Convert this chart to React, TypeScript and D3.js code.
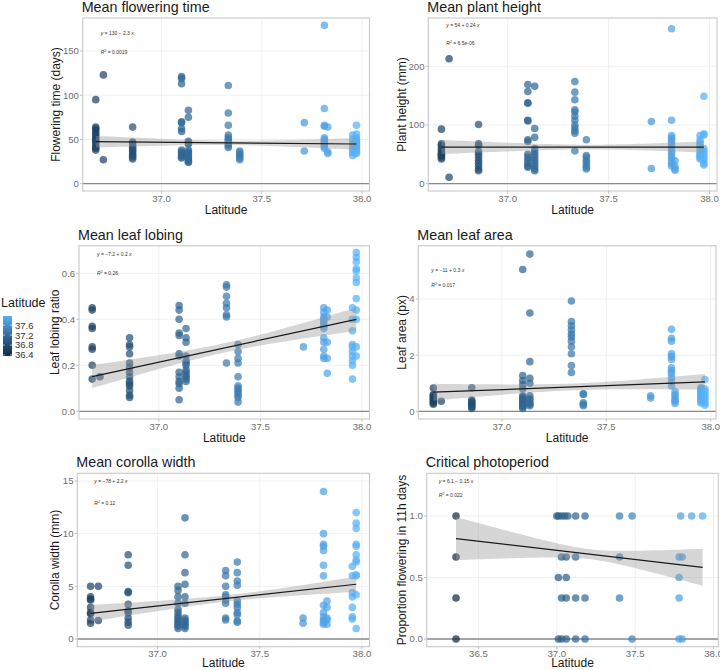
import React from "react";
import * as d3 from "d3";

// ---------- data ----------
const siteLatitude = [36.672, 36.71, 36.856, 37.1, 37.134, 37.333, 37.39, 37.712, 37.812, 37.829, 37.953, 37.972];

const floweringTime = [
  [95, 64, 62, 60, 57, 55, 52, 50, 48, 45, 42, 40, 38],
  [123, 27],
  [64, 47, 45, 42, 40, 38, 36, 34, 32, 30, 28],
  [121, 119, 113, 70, 69, 62, 59, 38, 36, 34, 32, 30, 29],
  [83, 75, 48, 46, 45, 38, 36, 34, 32, 30, 28, 26, 25, 24],
  [111, 80, 66, 55, 52, 50, 48, 45, 43, 41],
  [37, 35, 33, 31, 29, 27],
  [69, 37],
  [179, 85, 66, 65, 52, 50, 48, 46, 44, 42, 40],
  [64, 36, 34],
  [55, 50, 46, 42, 38, 35, 32],
  [66, 56, 52, 50, 48, 46, 44, 42, 40, 38, 36, 34],
];

const plantHeight = [
  [93, 68, 65, 60, 56, 52, 50, 48, 45, 42],
  [213, 11],
  [101, 68, 65, 55, 50, 45, 40, 35, 30, 25, 22],
  [169, 157, 138, 137, 108, 107, 75, 72, 50, 45, 40, 35, 30, 28],
  [166, 94, 79, 60, 55, 50, 45, 40, 35, 30, 25, 22],
  [174, 156, 143, 126, 122, 115, 108, 100, 95, 90, 86, 56],
  [75, 48, 45, 40, 36, 32, 28, 25],
  [106, 26],
  [264, 108, 82, 78, 75, 70, 65, 60, 55, 50, 45, 40, 35, 30],
  [39, 30, 25, 23],
  [82, 75, 70, 65, 60, 55, 50, 48, 45, 42],
  [149, 85, 83, 60, 55, 50, 45, 40, 35, 32],
];

const leafLobing = [
  [0.45, 0.44, 0.37, 0.36, 0.28, 0.27, 0.2, 0.14],
  [0.15],
  [0.32, 0.29, 0.28, 0.25, 0.21, 0.19, 0.17, 0.15, 0.13, 0.12, 0.11, 0.09, 0.07, 0.06],
  [0.46, 0.44, 0.4, 0.34, 0.33, 0.25, 0.24, 0.17, 0.15, 0.13, 0.12, 0.1, 0.05],
  [0.36, 0.32, 0.3, 0.24, 0.22, 0.21, 0.2, 0.18, 0.17, 0.16, 0.15, 0.14, 0.13],
  [0.55, 0.54, 0.5, 0.47, 0.45, 0.42, 0.41, 0.21],
  [0.29, 0.26, 0.23, 0.21, 0.15, 0.11, 0.1, 0.09, 0.08, 0.07, 0.06, 0.04],
  [0.28],
  [0.45, 0.43, 0.41, 0.4, 0.39, 0.38, 0.37, 0.36, 0.32, 0.3, 0.27, 0.24, 0.23],
  [0.44, 0.41, 0.3, 0.23, 0.165],
  [0.45, 0.4, 0.35, 0.29, 0.28, 0.26, 0.24, 0.22, 0.2, 0.14],
  [0.69, 0.67, 0.65, 0.62, 0.61, 0.58, 0.56, 0.49, 0.44, 0.4, 0.28, 0.24],
];

const leafArea = [
  [0.83, 0.6, 0.55, 0.5, 0.45, 0.4, 0.35, 0.3, 0.25],
  [0.36],
  [0.84, 0.4, 0.35, 0.3, 0.25, 0.2, 0.15, 0.1],
  [5.05, 1.27, 1.1, 0.95, 0.8, 0.55, 0.5, 0.45, 0.4, 0.35, 0.3, 0.25, 0.2, 0.15, 0.1],
  [5.6, 3.5, 1.77, 1.18, 1.0, 0.55, 0.45, 0.38, 0.3, 0.25, 0.2],
  [3.93, 3.2, 3.05, 2.9, 2.75, 2.65, 2.5, 2.3, 2.05, 1.63, 1.38],
  [0.63, 0.6, 0.3, 0.25, 0.2],
  [0.55, 0.47],
  [2.92, 2.6, 2.5, 2.05, 1.95, 1.85, 1.55, 1.45, 1.35, 1.2, 1.05, 0.9],
  [0.7, 0.6, 0.55, 0.45, 0.4, 0.35, 0.28],
  [0.85, 0.8, 0.75, 0.7, 0.65, 0.6, 0.55, 0.5, 0.45, 0.4, 0.35, 0.3],
  [1.13, 0.8, 0.7, 0.6, 0.5, 0.4, 0.3, 0.22],
];

const corollaWidth = [
  [5.0, 4.0, 3.8, 3.7, 3.0, 2.5, 2.4, 1.8, 1.5],
  [5.0, 1.75],
  [8.0, 7.0, 4.5, 4.4, 3.3, 2.7, 2.5, 2.0, 1.6, 1.3],
  [5.0, 4.6, 4.0, 3.4, 2.8, 2.5, 2.2, 2.0, 1.8, 1.6, 1.4, 1.2, 1.0],
  [11.5, 8.0, 6.3, 5.2, 4.0, 3.4, 2.0, 1.8, 1.6, 1.4, 1.2, 1.0],
  [6.5, 6.0, 5.0, 4.2, 4.0, 3.7, 3.4, 2.0, 1.8],
  [7.3, 6.3, 5.5, 5.1, 3.6, 3.3, 3.0, 2.5, 2.3, 1.7, 1.6],
  [2.0, 1.5],
  [14.0, 10.0, 9.0, 8.8, 8.4, 7.0, 6.0, 3.2, 2.5, 2.1, 1.8, 1.6, 1.4],
  [3.6, 3.0, 2.0, 1.8, 1.4],
  [6.9, 6.0, 4.4, 4.0, 3.0, 2.1, 1.9],
  [12.0, 11.0, 10.5, 9.0, 8.8, 8.0, 7.5, 7.3, 6.1, 6.0, 4.2, 1.0],
];

const photoLatitude = [
  36.357, 36.357, 36.357, 36.357,
  37.0, 37.01, 37.03, 37.05, 37.07, 37.12, 37.18, 37.4, 37.48, 37.79, 37.86, 37.93,
  37.03, 37.06, 37.12, 37.4, 37.78, 37.8,
  37.01, 37.06, 37.78,
  37.03, 37.06, 37.12, 37.18, 37.4, 37.78,
  37.01, 37.03, 37.06, 37.12, 37.18, 37.48, 37.78, 37.8,
];
const photoProportion = [
  1, 0.667, 0.333, 0,
  1, 1, 1, 1, 1, 1, 1, 1, 1, 1, 1, 1,
  0.667, 0.667, 0.667, 0.667, 0.667, 0.667,
  0.5, 0.5, 0.5,
  0.333, 0.333, 0.333, 0.333, 0.333, 0.333,
  0, 0, 0, 0, 0, 0, 0, 0,
];

// fitted lines (y at min / max latitude) and CI half-widths [left, narrowest, right]
const floweringFit = [47.5, 44.9];
const floweringBand = [6.6, 2.4, 6.5];
const heightFit = [62.5, 62.5];
const heightBand = [12, 4, 9.5];
const lobingFit = [0.151, 0.4];
const lobingBand = [0.05, 0.02, 0.05];
const areaFit = [0.68, 1.05];
const areaBand = [0.3, 0.12, 0.28];
const corollaFit = [2.44, 5.2];
const corollaBand = [0.79, 0.3, 0.72];
const photoFit = [0.816, 0.583];
const photoBand = [0.175, 0.04, 0.15];

const latTicks = [37.0, 37.5, 38.0];
const photoLatTicks = [36.5, 37.0, 37.5, 38.0];
const legendTicks = [36.4, 36.8, 37.2, 37.6];
const colourDomain = [36.357, 37.972];

// ---------- styling ----------
const FONT = "'Liberation Sans', Arial, Helvetica, sans-serif";
const colour = d3
  .scaleLinear<string>()
  .domain(colourDomain)
  .range(["#132B43", "#56B1F7"])
  .interpolate(d3.interpolateLab);

type Pt = { lat: number; v: number };
const fromSites = (vals: number[][]): Pt[] =>
  vals.flatMap((arr, i) => arr.map((v) => ({ lat: siteLatitude[i], v })));

const panels = [
  {
    title: "Mean flowering time", ylab: "Flowering time (days)",
    box: [82.7, 18, 369.5, 191], xdom: [36.607, 38.037], ydom: [-8.25, 187.3],
    xticks: latTicks, yticks: [0, 50, 100, 150], fmt: (d: number) => String(d),
    pts: fromSites(floweringTime), fit: floweringFit, band: floweringBand,
    eq: ["y", " = 130 − 2.3 ", "x"], r2: "0.0019", eqOff: [18, 17], r2Off: [18, 36], ylabX: 59.5, xlabOff: 23,
  },
  {
    title: "Mean plant height", ylab: "Plant height (mm)",
    box: [428.3, 18, 717, 191], xdom: [36.607, 38.037], ydom: [-12.4, 282.3],
    xticks: latTicks, yticks: [0, 100, 200], fmt: (d: number) => String(d),
    pts: fromSites(plantHeight), fit: heightFit, band: heightBand,
    eq: ["y", " = 54 + 0.24 ", "x"], r2: "6.5e-06", eqOff: [18, 8.7], r2Off: [18, 27.4], ylabX: 405.5, xlabOff: 23,
  },
  {
    title: "Mean leaf lobing", ylab: "Leaf lobing ratio",
    box: [79, 245.7, 369.5, 419], xdom: [36.607, 38.037], ydom: [-0.0335, 0.72],
    xticks: latTicks, yticks: [0, 0.2, 0.4, 0.6], fmt: (d: number) => d.toFixed(1),
    pts: fromSites(leafLobing), fit: lobingFit, band: lobingBand,
    eq: ["y", " = −7.2 + 0.2 ", "x"], r2: "0.26", eqOff: [18, 10], r2Off: [18, 29.4], ylabX: 58.6, xlabOff: 23,
  },
  {
    title: "Mean leaf area", ylab: "Leaf area (px)",
    box: [418.3, 245.7, 716, 419], xdom: [36.6, 38.025], ydom: [-0.274, 5.9],
    xticks: latTicks, yticks: [0, 2, 4], fmt: (d: number) => String(d),
    pts: fromSites(leafArea), fit: areaFit, band: areaBand,
    eq: ["y", " = −11 + 0.3 ", "x"], r2: "0.017", eqOff: [13, 26.4], r2Off: [13, 41.4], ylabX: 405.5, xlabOff: 23,
  },
  {
    title: "Mean corolla width", ylab: "Corolla width (mm)",
    box: [77.3, 473.3, 369.5, 646.7], xdom: [36.607, 38.037], ydom: [-0.73, 15.73],
    xticks: latTicks, yticks: [0, 5, 10, 15], fmt: (d: number) => String(d),
    pts: fromSites(corollaWidth), fit: corollaFit, band: corollaBand,
    eq: ["y", " = −78 + 2.2 ", "x"], r2: "0.12", eqOff: [17, 10], r2Off: [17, 31.4], ylabX: 58.6, xlabOff: 20.3,
  },
  {
    title: "Critical photoperiod", ylab: "Proportion flowering in 11h days",
    box: [426.7, 473.3, 718.3, 646.7], xdom: [36.17, 38.03], ydom: [-0.0626, 1.347],
    xticks: photoLatTicks, yticks: [0, 0.5, 1], fmt: (d: number) => d.toFixed(1),
    pts: photoLatitude.map((lat, i) => ({ lat, v: photoProportion[i] })), fit: photoFit, band: photoBand,
    eq: ["y", " = 6.1 − 0.15 ", "x"], r2: "0.022", eqOff: [12, 10], r2Off: [12, 23.4], ylabX: 405.5, xlabOff: 20.3,
  },
];

function halfWidth(x: number, xL: number, xR: number, b: number[]) {
  const [hL, hm, hR] = b;
  const A = hm * hm;
  const r = Math.sqrt((hL * hL - A) / (hR * hR - A));
  const x0 = (xL + r * xR) / (1 + r);
  const B = (hL * hL - A) / ((x0 - xL) * (x0 - xL));
  return Math.sqrt(A + B * (x - x0) * (x - x0));
}

function Panel({ cfg }: { cfg: (typeof panels)[number] }) {
  const [x0, y0, x1, y1] = cfg.box;
  const xs = d3.scaleLinear().domain(cfg.xdom).range([x0, x1]);
  const ys = d3.scaleLinear().domain(cfg.ydom).range([y1, y0]);
  const lats = cfg.pts.map((p) => p.lat);
  const xL = d3.min(lats) as number;
  const xR = d3.max(lats) as number;
  const fitY = (x: number) => cfg.fit[0] + ((cfg.fit[1] - cfg.fit[0]) * (x - xL)) / (xR - xL);
  const xsamp = d3.range(81).map((i) => xL + ((xR - xL) * i) / 80);
  const area = d3
    .area<number>()
    .x((d) => xs(d))
    .y0((d) => ys(fitY(d) - halfWidth(d, xL, xR, cfg.band)))
    .y1((d) => ys(fitY(d) + halfWidth(d, xL, xR, cfg.band)));
  const line = d3
    .line<number>()
    .x((d) => xs(d))
    .y((d) => ys(fitY(d)));
  const cy = (y0 + y1) / 2;
  return (
    <g fontFamily={FONT}>
      <text x={x0 - 1} y={y0 - 6} fontSize={14.3} fill="#1a1a1a">{cfg.title}</text>
      <rect x={x0} y={y0} width={x1 - x0} height={y1 - y0} fill="white" />
      {cfg.xticks.map((t) => (
        <line key={"gx" + t} x1={xs(t)} x2={xs(t)} y1={y0} y2={y1} stroke="#ececec" strokeWidth={0.8} />
      ))}
      {cfg.yticks.map((t) => (
        <line key={"gy" + t} x1={x0} x2={x1} y1={ys(t)} y2={ys(t)} stroke="#ececec" strokeWidth={0.8} />
      ))}
      <line x1={x0} x2={x1} y1={ys(0)} y2={ys(0)} stroke="#8a8a8a" strokeWidth={1.3} />
      {cfg.pts.map((p, i) => (
        <circle key={i} cx={xs(p.lat)} cy={ys(p.v)} r={3.8} fill={colour(p.lat)} fillOpacity={0.72} />
      ))}
      <path d={area(xsamp) || ""} fill="#999999" fillOpacity={0.4} />
      <path d={line([xL, xR]) || ""} stroke="#1a1a1a" strokeWidth={1.2} fill="none" />
      <rect x={x0} y={y0} width={x1 - x0} height={y1 - y0} fill="none" stroke="#c8c8c8" strokeWidth={1.1} />
      {cfg.xticks.map((t) => (
        <g key={"tx" + t}>
          <line x1={xs(t)} x2={xs(t)} y1={y1} y2={y1 + 2.7} stroke="#b3b3b3" strokeWidth={0.8} />
          <text x={xs(t)} y={y1 + 10.5} fontSize={9.6} fill="#6e6e6e" textAnchor="middle">
            {t.toFixed(1)}
          </text>
        </g>
      ))}
      {cfg.yticks.map((t) => (
        <g key={"ty" + t}>
          <line x1={x0 - 2.7} x2={x0} y1={ys(t)} y2={ys(t)} stroke="#b3b3b3" strokeWidth={0.8} />
          <text x={x0 - 3.8} y={ys(t) + 3.4} fontSize={9.6} fill="#6e6e6e" textAnchor="end">
            {cfg.fmt(t)}
          </text>
        </g>
      ))}
      <text x={(x0 + x1) / 2} y={y1 + cfg.xlabOff} fontSize={12} fill="#1a1a1a" textAnchor="middle">Latitude</text>
      <text
        transform={`translate(${cfg.ylabX},${cy}) rotate(-90)`}
        fontSize={12}
        fill="#1a1a1a"
        textAnchor="middle"
      >
        {cfg.ylab}
      </text>
      <text x={x0 + cfg.eqOff[0]} y={y0 + cfg.eqOff[1]} fontSize={5} fill="#333">
        <tspan fontStyle="italic">{cfg.eq[0]}</tspan>
        <tspan>{cfg.eq[1]}</tspan>
        <tspan fontStyle="italic">{cfg.eq[2]}</tspan>
      </text>
      <text x={x0 + cfg.r2Off[0]} y={y0 + cfg.r2Off[1]} fontSize={5} fill="#333">
        <tspan fontStyle="italic">R</tspan>
        <tspan fontSize={3.5} dy={-2}>2</tspan>
        <tspan dy={2}>{" = " + cfg.r2}</tspan>
      </text>
    </g>
  );
}

function Legend() {
  const top = 316;
  const bottom = 356;
  const ly = d3.scaleLinear().domain(colourDomain).range([bottom, top]);
  const stops = d3.range(11).map((i) => i / 10);
  return (
    <g fontFamily={FONT}>
      <defs>
        <linearGradient id="latGrad" x1="0" y1="1" x2="0" y2="0">
          {stops.map((s) => (
            <stop
              key={s}
              offset={s}
              stopColor={colour(colourDomain[0] + s * (colourDomain[1] - colourDomain[0]))}
            />
          ))}
        </linearGradient>
      </defs>
      <text x={1} y={307} fontSize={12.5} fill="#1a1a1a">Latitude</text>
      <rect x={3} y={top} width={9} height={bottom - top} fill="url(#latGrad)" />
      {legendTicks.map((t) => (
        <g key={t}>
          <line x1={3} x2={5} y1={ly(t)} y2={ly(t)} stroke="white" strokeWidth={0.6} />
          <line x1={10} x2={12} y1={ly(t)} y2={ly(t)} stroke="white" strokeWidth={0.6} />
          <text x={15} y={ly(t) + 3.4} fontSize={9.5} fill="#333">{t.toFixed(1)}</text>
        </g>
      ))}
    </g>
  );
}

export default function App() {
  return (
    <svg
      width={720}
      height={670}
      style={{ position: "absolute", left: 0, top: 0, background: "white" }}
    >
      <rect width={720} height={670} fill="white" />
      {panels.map((p) => (
        <Panel key={p.title} cfg={p} />
      ))}
      <Legend />
    </svg>
  );
}
